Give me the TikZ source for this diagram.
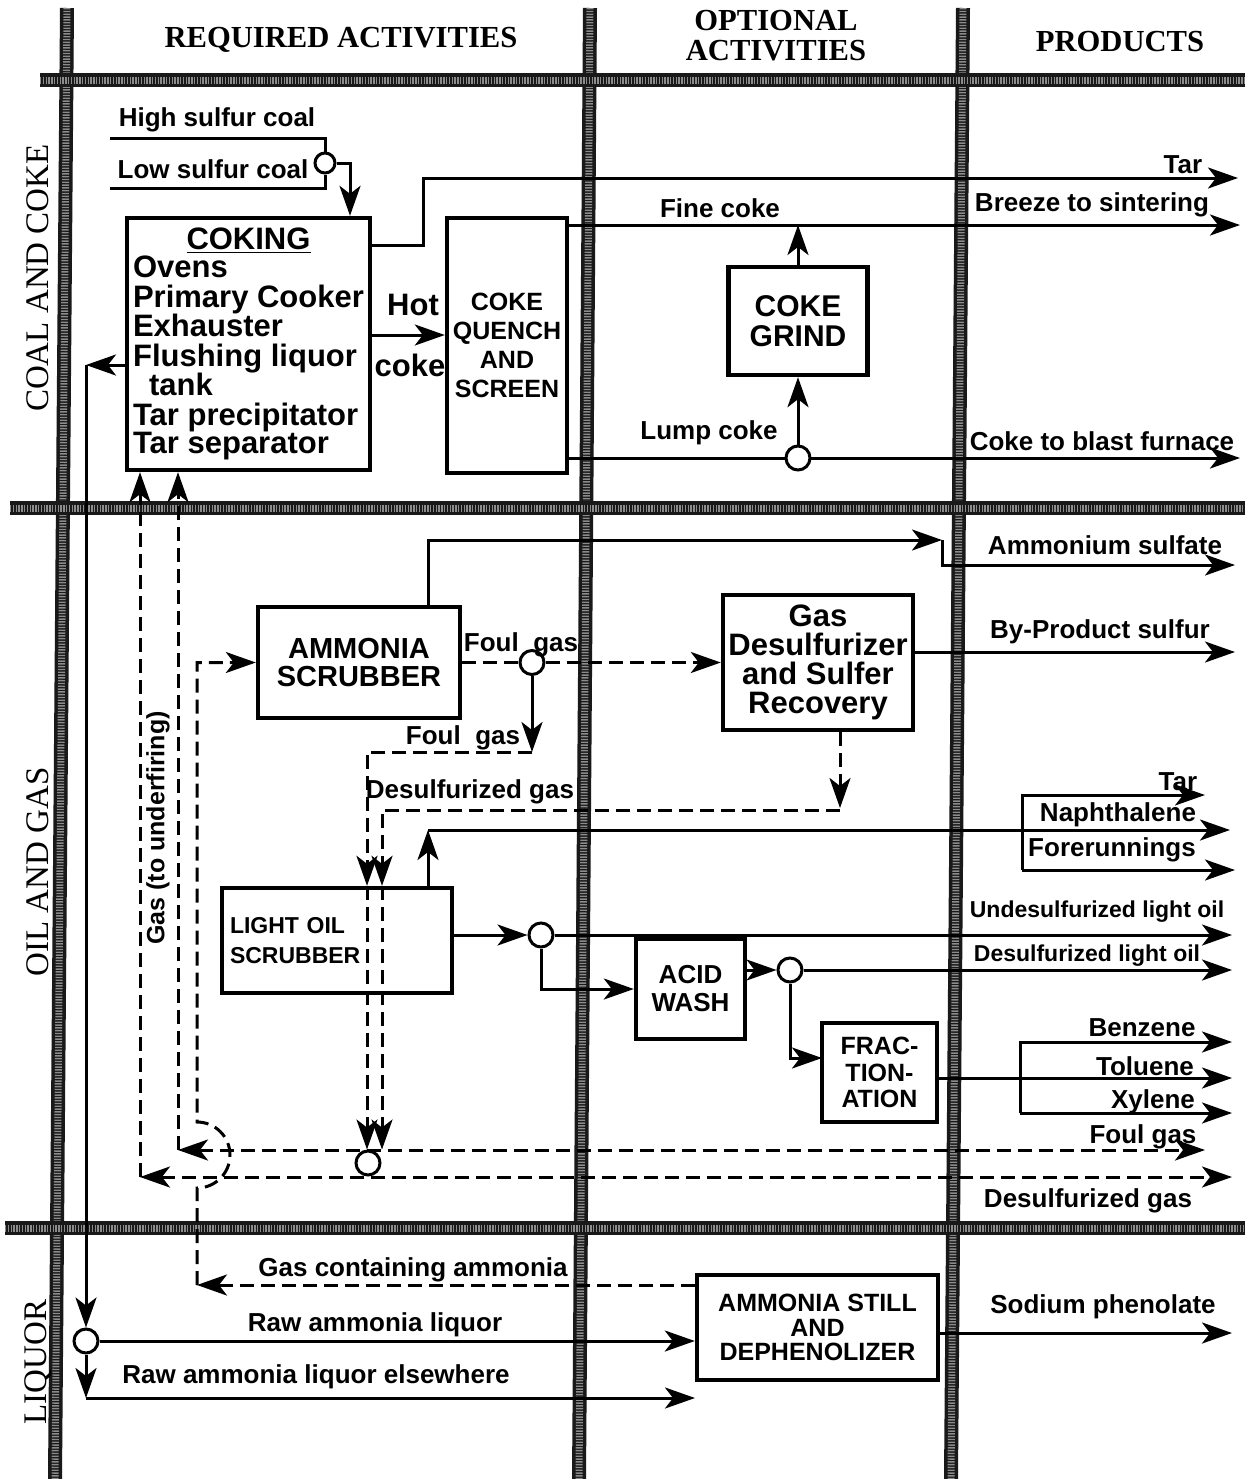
\documentclass[tikz,border=0pt]{standalone}
\usepackage{fontspec}
\setmainfont{Liberation Serif}
\setsansfont{Liberation Sans}
\usetikzlibrary{arrows.meta}

\tikzset{
  >={Stealth[length=15pt,width=10.5pt,inset=4pt]},
  bar/.style={line width=7pt, draw=black!90},
  barfill/.style={line width=3.5pt, draw=black!45, dash pattern=on 0.7pt off 0.7pt},
  line/.style={line width=1.5pt},
  flow/.style={line width=1.5pt, ->},
  gas/.style={line width=1.5pt, dash pattern=on 7pt off 3.5pt},
  box/.style={draw, line width=2.2pt, align=center, inner sep=0pt},
  junc/.style={circle, draw, fill=white, line width=1.5pt, inner sep=0pt, minimum size=12pt},
  lbl/.style={font=\sffamily\bfseries\fontsize{13}{15}\selectfont, inner sep=0pt},
  small/.style={font=\sffamily\bfseries\fontsize{11.5}{13}\selectfont, inner sep=0pt},
  big/.style={font=\sffamily\bfseries\fontsize{15.5}{14.5}\selectfont, inner sep=0pt},
  head/.style={font=\rmfamily\bfseries\fontsize{15.3}{15}\selectfont, align=center, inner sep=0pt},
  side/.style={font=\rmfamily\fontsize{16.5}{17}\selectfont, rotate=90, inner sep=0pt},
}

\begin{document}
\begin{tikzpicture}[x=0.5pt,y=-0.5pt]
\useasboundingbox (0,0) rectangle (1245,1479);

% grid of bars
\foreach \p/\q in {{67,8}/{55,1479},{590,8}/{579,1479},{963,8}/{951,1479},%
                   {40,80}/{1245,80},{10,508}/{1245,508},{5,1228}/{1245,1228}}{
  \draw[bar] (\p) -- (\q);
  \draw[barfill] (\p) -- (\q);
}

% headings
\node[head] (hreq) at (341,40) {REQUIRED ACTIVITIES};
\node[head] (hopt) at (776,36) {OPTIONAL\\ACTIVITIES};
\node[head] (hprod) at (1120,42) {PRODUCTS};
\node[side] (scoal) at (38,278) {COAL AND COKE};
\node[side] (soil) at (38,872) {OIL AND GAS};
\node[side] (sliq) at (38,1362) {LIQUOR};

% boxes
\node[box, minimum width=121.5pt, minimum height=126pt,
      font=\sffamily\bfseries\fontsize{15.5}{14.5}\selectfont] (cok) at (248.5,344)
  {\renewcommand{\arraystretch}{0.8}%
   \begin{tabular}{@{}l@{}}\multicolumn{1}{@{}c@{}}{\underline{COKING}}\\
   Ovens\\ Primary Cooker\\ Exhauster\\ Flushing liquor\\ \hspace*{8pt}tank\\
   Tar precipitator\\ Tar separator\end{tabular}};
\node[box, minimum width=60pt, minimum height=127.5pt,
      font=\sffamily\bfseries\fontsize{12.5}{14.5}\selectfont] (qch) at (507,345.5)
  {COKE\\QUENCH\\AND\\SCREEN};
\node[box, minimum width=69.5pt, minimum height=54pt,
      font=\sffamily\bfseries\fontsize{15}{15}\selectfont] (grd) at (798,321) {COKE\\GRIND};
\node[box, minimum width=101pt, minimum height=55.5pt,
      font=\sffamily\bfseries\fontsize{14.5}{14}\selectfont] (ams) at (359,662.5) {AMMONIA\\SCRUBBER};
\node[box, minimum width=95pt, minimum height=67.5pt,
      font=\sffamily\bfseries\fontsize{15.5}{14.5}\selectfont] (gds) at (818,662.5)
  {Gas\\Desulfurizer\\and Sulfer\\Recovery};
\node[box, minimum width=115pt, minimum height=52.5pt, text width=107pt, inner xsep=4pt,
      align=left, font=\sffamily\bfseries\fontsize{11.5}{15}\selectfont] (los) at (337,940.5)
  {LIGHT OIL\\SCRUBBER};
\node[box, minimum width=54.5pt, minimum height=50pt,
      font=\sffamily\bfseries\fontsize{13}{14}\selectfont] (acw) at (690.5,989) {ACID\\WASH};
\node[box, minimum width=57.5pt, minimum height=49.5pt,
      font=\sffamily\bfseries\fontsize{12.5}{13.2}\selectfont] (frc) at (879.5,1072.5)
  {FRAC-\\TION-\\ATION};
\node[box, minimum width=120.5pt, minimum height=52.5pt,
      font=\sffamily\bfseries\fontsize{12.5}{12.3}\selectfont] (ast) at (817.5,1327.5)
  {AMMONIA STILL\\AND\\DEPHENOLIZER};

% coal and coke
\node[lbl] (hsc) at (217,120) {High sulfur coal};
\node[lbl] (lsc) at (213,169) {Low sulfur coal};
\node[junc, minimum size=10pt] (jcoal) at (325,163) {};
\coordinate (hs0) at (110,138);
\coordinate (ls0) at (110,188);
\coordinate (coalin) at (350,163);
\draw[line] (hs0) -| (jcoal.north);
\draw[line] (ls0) -| (jcoal.south);
\draw[flow] (jcoal.east) -- (coalin) -- (coalin |- cok.north);

\coordinate (tar0) at (423,245);
\coordinate (tar1) at (1238,178);
\draw[flow] (cok.east |- tar0) -- (tar0) |- (tar1);
\node[lbl] (ltar) at (1183,165) {Tar};

\coordinate (hot) at (410,335);
\draw[flow] (cok.east |- hot) -- (qch.west |- hot);
\node[big] (lhot) at (413,305) {Hot};
\node[big] (lcoke) at (410,365) {coke};

\coordinate (fine1) at (1240,225);
\draw[flow] (qch.east |- fine1) -- (fine1);
\draw[flow] (grd.north) -- (grd.north |- fine1);
\node[lbl] (lfine) at (720,208) {Fine coke};
\node[lbl] (lbreeze) at (1092,205) {Breeze to sintering};

\coordinate (lump1) at (1240,458);
\draw[flow] (qch.east |- lump1) -- (lump1);
\node[junc] (jlump) at (798,458) {};
\draw[flow] (jlump.north) -- (grd.south);
\node[lbl] (llump) at (709,433) {Lump coke};
\node[lbl] (lblast) at (1102,441) {Coke to blast furnace};

% oil and gas
\coordinate (nh0) at (428,540);
\coordinate (nh1) at (942,540);
\coordinate (nh2) at (942,565);
\coordinate (nh3) at (1235,565);
\draw[flow] (ams.north -| nh0) -- (nh0) -- (nh1);
\draw[flow] (nh1) -- (nh2) -- (nh3);
\node[lbl] (lamsul) at (1105,545) {Ammonium sulfate};

\draw[gas,->] (ams.east) -- (gds.west);
\node[junc] (jfoul) at (532,662.5) {};
\node[lbl] (lfoul1) at (521,645) {Foul\ \ gas};
\coordinate (fg0) at (532,752);
\coordinate (fg1) at (367,752);
\draw[flow] (jfoul.south) -- (fg0);
\draw[gas,->] (fg0) -- (fg1) -- (fg1 |- los.north);
\node[lbl] (lfoul2) at (463,738) {Foul\ \ gas};

\coordinate (bps) at (1235,652);
\draw[flow] (gds.east |- bps) -- (bps);
\node[lbl] (lbps) at (1100,632) {By-Product sulfur};

\coordinate (dg0) at (840,808);
\coordinate (dg1) at (382,810);
\draw[gas,->] (gds.south -| dg0) -- (dg0);
\draw[gas,->] (dg0 |- dg1) -- (dg1) -- (dg1 |- los.north);
\node[lbl] (ldes1) at (470,792) {Desulfurized gas};

\coordinate (nap0) at (428,830);
\coordinate (nap1) at (1230,830);
\draw[flow] (los.north -| nap0) -- (nap0);
\draw[flow] (nap0) -- (nap1);
\coordinate (br0) at (1022,795);
\coordinate (br1) at (1022,870);
\coordinate (tar2) at (1205,795);
\coordinate (for1) at (1235,870);
\draw[flow] (br1) -- (br0) -- (tar2);
\draw[flow] (br1) -- (for1);
\node[lbl] (ltar2) at (1178,782) {Tar};
\node[lbl] (lnap) at (1118,815) {Naphthalene};
\node[lbl] (lfor) at (1112,850) {Forerunnings};

\node[lbl, rotate=90, font=\sffamily\bfseries\fontsize{12.5}{14}\selectfont] (lunder) at (158,828) {Gas (to underfiring)};

\node[junc] (jlo) at (541,935) {};
\coordinate (ulo) at (1232,935);
\draw[flow] (los.east |- jlo) -- (jlo.west);
\draw[flow] (jlo.east) -- (ulo);
\draw[flow] (jlo.south) |- (acw.west);
\node[small] (lundes) at (1097,912) {Undesulfurized light oil};

\node[junc] (jac) at (790,970) {};
\coordinate (dlo) at (1232,970);
\draw[flow] (acw.east |- jac) -- (jac.west);
\draw[flow] (jac.east) -- (dlo);
\node[small] (ldeslo) at (1087,956) {Desulfurized light oil};
\coordinate (frin) at (822,1058);
\draw[flow] (jac.south) |- (frin);

\coordinate (tol) at (1232,1078);
\coordinate (bz0) at (1020,1042);
\coordinate (bz1) at (1232,1042);
\coordinate (xy0) at (1020,1113);
\coordinate (xy1) at (1232,1113);
\draw[flow] (frc.east |- tol) -- (tol);
\draw[flow] (xy0) -- (bz0) -- (bz1);
\draw[flow] (xy0) -- (xy1);
\node[lbl] (lbz) at (1142,1028) {Benzene};
\node[lbl] (ltol) at (1145,1066) {Toluene};
\node[lbl] (lxy) at (1153,1102) {Xylene};

% gas returns
\coordinate (fgl) at (178,1150);
\coordinate (fgr) at (1205,1150);
\coordinate (dgl) at (140,1177);
\coordinate (dgr) at (1232,1177);
\draw[gas,<->] (fgl) -- (fgr);
\draw[gas,<->] (dgl) -- (dgr);
\draw[gas,->] (fgl) -- (fgl |- cok.south);
\draw[gas,->] (dgl) -- (dgl |- cok.south);
\node[junc] (jgas) at (368,1163) {};
\draw[gas,->] (fg1 |- los.north) -- (fg1 |- jgas.north);
\draw[gas,->] (dg1 |- los.north) -- (dg1 |- jgas.north);
\node[lbl] (lfoul3) at (1143,1137) {Foul gas};
\node[lbl] (ldes2) at (1088,1201) {Desulfurized gas};

% liquor
\coordinate (gca0) at (197,1285);
\draw[gas,->] (ast.west |- gca0) -- (gca0);
\draw[gas,->] (gca0) -- (197,1188) arc[start angle=90, end angle=-90, radius=33] |- (ams.west);
\node[lbl] (lgca) at (413,1270) {Gas containing ammonia};

\coordinate (flq) at (86,365);
\draw[flow] (cok.west |- flq) -- (flq);
\node[junc] (jliq) at (86,1341) {};
\draw[flow] (flq) -- (jliq.north);
\draw[flow] (jliq.east) -- (ast.west |- jliq);
\node[lbl] (lral) at (375,1325) {Raw ammonia liquor};
\coordinate (rle0) at (86,1398);
\coordinate (rle1) at (695,1398);
\draw[flow] (jliq.south) -- (rle0);
\draw[flow] (rle0) -- (rle1);
\node[lbl] (lrale) at (316,1377) {Raw ammonia liquor elsewhere};

\coordinate (sph) at (1232,1333);
\draw[flow] (ast.east |- sph) -- (sph);
\node[lbl] (lsph) at (1103,1307) {Sodium phenolate};
\end{tikzpicture}
\end{document}
